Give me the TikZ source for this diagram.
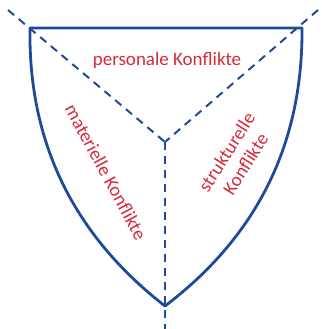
\documentclass[tikz,border=0pt]{standalone}
\usepackage{fontspec}
\setmainfont{Carlito}
\definecolor{lineblue}{HTML}{1F4A99}
\definecolor{textred}{HTML}{D42B3A}
\begin{document}
\begin{tikzpicture}[x=1pt,y=-1pt,
  outline/.style={draw=lineblue,line width=2.8pt,line join=round},
  dashline/.style={draw=lineblue,line width=2pt,dash pattern=on 8pt off 6pt},
  lbl/.style={text=textred,font=\fontsize{19}{22.5}\selectfont,align=center,inner sep=0pt}]
\useasboundingbox (0,0) rectangle (321,329);
\coordinate (tl) at (30,28);
\coordinate (tr) at (302,28);
\coordinate (bot) at (165,306);
\coordinate (c) at (165,142);
\coordinate (etl) at (8,10);
\coordinate (etr) at (318,10);
\coordinate (eb) at (165,329);
\draw[dashline] (etl) -- (c);
\draw[dashline] (etr) -- (c);
\draw[dashline] (c) -- (eb);
\draw[outline] (tl) -- (tr) .. controls (303,150) and (252,240) .. (bot)
  .. controls (80,240) and (28,150) .. (tl) -- cycle;
\node[lbl] (pers) at (167,60) {personale Konflikte};
\node[lbl,rotate=-61.6] (mat) at (106,172) {materielle Konflikte};
\node[lbl,rotate=57.7] (struk) at (236,158) {strukturelle\\Konflikte};
\end{tikzpicture}
\end{document}
